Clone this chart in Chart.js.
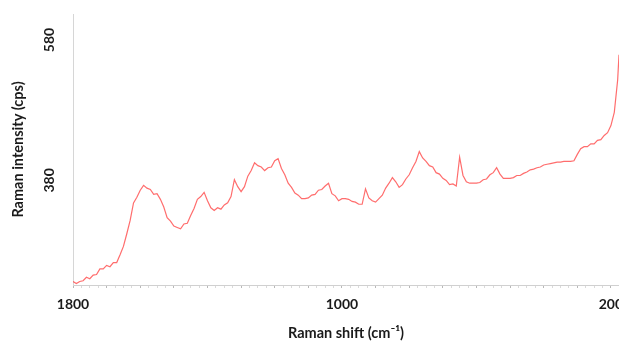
<!DOCTYPE html>
<html>
<head>
<meta charset="utf-8">
<title>Raman spectrum</title>
<script src="https://cdn.jsdelivr.net/npm/chart.js@4.4.0/dist/chart.umd.min.js"></script>
<style>
  html, body { margin: 0; padding: 0; background: #fff; overflow: hidden; }
  #wrap { width: 619px; height: 341px; position: relative; }
</style>
</head>
<body>
<div id="wrap"><canvas id="raman"></canvas></div>
<script>
/* ---- data ---- */
const ramanShift = [
  1800, 1790, 1780, 1770, 1760, 1750, 1740, 1730, 1720, 1710,
  1700, 1690, 1680, 1670, 1660, 1650, 1640, 1630, 1620, 1610,
  1600, 1590, 1580, 1570, 1560, 1550, 1540, 1530, 1520, 1510,
  1500, 1490, 1480, 1470, 1460, 1450, 1440, 1430, 1420, 1410,
  1400, 1390, 1380, 1370, 1360, 1350, 1340, 1330, 1320, 1310,
  1300, 1290, 1280, 1270, 1260, 1250, 1240, 1230, 1220, 1210,
  1200, 1190, 1180, 1170, 1160, 1150, 1140, 1130, 1120, 1110,
  1100, 1090, 1080, 1070, 1060, 1050, 1040, 1030, 1020, 1010,
  1000, 990, 980, 970, 960, 950, 940, 930, 920, 910,
  900, 890, 880, 870, 860, 850, 840, 830, 820, 810,
  800, 790, 780, 770, 760, 750, 740, 730, 720, 710,
  700, 690, 680, 670, 660, 650, 640, 630, 620, 610,
  600, 590, 580, 570, 560, 550, 540, 530, 520, 510,
  500, 490, 480, 470, 460, 450, 440, 430, 420, 410,
  400, 390, 380, 370, 360, 350, 340, 330, 320, 310,
  300, 290, 280, 270, 260, 250, 240, 230, 220, 210,
  200, 190, 180, 176
];

const intensity = [
  236, 233, 236, 237, 242, 240, 245, 246, 254, 254,
  259, 257, 263, 263, 274, 286, 304, 323, 348, 356,
  366, 373, 369, 367, 360, 361, 353, 342, 327, 322,
  315, 313, 311, 318, 319, 330, 340, 353, 357, 363,
  351, 341, 337, 341, 339, 345, 348, 357, 381, 371,
  364, 371, 386, 394, 405, 401, 399, 394, 398, 399,
  408, 411, 397, 388, 376, 370, 362, 359, 354, 354,
  355, 359, 360, 366, 367, 372, 376, 361, 358, 351,
  354, 354, 353, 350, 349, 346, 346, 368, 355, 351,
  349, 354, 359, 369, 376, 384, 378, 370, 374, 382,
  388, 398, 407, 421, 412, 407, 401, 399, 391, 389,
  383, 380, 374, 375, 372, 413, 387, 378, 376, 376,
  376, 377, 381, 382, 388, 391, 398, 389, 383, 383,
  383, 384, 387, 387, 390, 392, 395, 396, 398, 399,
  402, 403, 404, 405, 406, 406, 407, 407, 407, 408,
  417, 425, 428, 428, 432, 432, 437, 438, 444, 448,
  458, 477, 523, 559
];

// axis labels as printed on the figure
const xTickLabels = [1800, 1000, 200];
const yTickLabels = [380, 580];
const xTickMarks = [];
for (let v = 1800; v >= 200; v -= 25) xTickMarks.push(v);
xTickMarks.push(176);

const labelFont = "Lato, 'Open Sans', sans-serif";

/* ---- rotated y tick labels ---- */
const rotatedYLabels = {
  id: "rotatedYLabels",
  afterDraw(chart) {
    const s = chart.scales.y;
    const ctx = chart.ctx;
    ctx.save();
    ctx.fillStyle = "#1a1a1a";
    ctx.font = "bold 14px " + labelFont;
    ctx.textAlign = "center";
    ctx.textBaseline = "middle";
    yTickLabels.forEach(v => {
      const y = s.getPixelForValue(v);
      ctx.save();
      ctx.translate(49, y);
      ctx.rotate(-Math.PI / 2);
      ctx.fillText(String(v), 0, 0);
      ctx.restore();
    });
    ctx.restore();
  }
};

new Chart(document.getElementById("raman"), {
  type: "line",
  data: {
    datasets: [{
      data: ramanShift.map((x, i) => ({ x: x, y: intensity[i] })),
      borderColor: "rgba(255, 60, 60, 0.75)",
      borderWidth: 1.2,
      pointRadius: 0,
      tension: 0,
      fill: false
    }]
  },
  options: {
    responsive: true,
    maintainAspectRatio: false,
    animation: false,
    layout: { padding: { top: 14, right: 0, left: 0, bottom: 0 } },
    plugins: {
      legend: { display: false },
      tooltip: { enabled: false }
    },
    scales: {
      x: {
        type: "linear",
        reverse: true,
        min: 176,
        max: 1800,
        afterBuildTicks: s => { s.ticks = xTickMarks.map(v => ({ value: v })); },
        afterFit: s => { s.height = 56; s.paddingRight = 0; },
        border: { color: "#d0d0d0" },
        grid: {
          drawOnChartArea: false,
          drawTicks: true,
          tickLength: 3,
          color: c => (c.tick && c.tick.value % 100 === 0) ? "#b8b8b8" : "#dadada"
        },
        ticks: {
          autoSkip: false,
          maxRotation: 0,
          minRotation: 0,
          padding: 8,
          color: "#1a1a1a",
          font: { family: labelFont, size: 14, weight: "bold" },
          callback: v => xTickLabels.includes(v) ? String(v) : ""
        },
        title: {
          display: true,
          text: "Raman shift (cm\u207B\u00B9)",
          color: "#1a1a1a",
          font: { family: labelFont, size: 14.5, weight: "bold", lineHeight: 1.0 },
          padding: { top: 0, bottom: 0 }
        }
      },
      y: {
        type: "linear",
        min: 231,
        max: 617,
        afterBuildTicks: s => { s.ticks = yTickLabels.map(v => ({ value: v })); },
        afterFit: s => { s.width = 73; },
        border: { color: "#d6d6d6" },
        grid: { drawOnChartArea: false, drawTicks: false },
        ticks: { display: false },
        title: {
          display: true,
          text: "Raman intensity (cps)",
          color: "#1a1a1a",
          font: { family: labelFont, size: 14.5, weight: "bold" },
          padding: { top: 10, bottom: 0 }
        }
      }
    }
  },
  plugins: [rotatedYLabels]
});
</script>
</body>
</html>
